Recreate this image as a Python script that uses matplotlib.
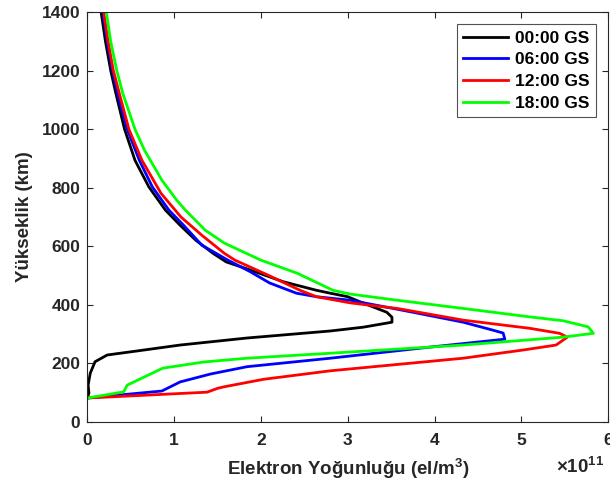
import matplotlib
matplotlib.use("Agg")
import matplotlib.pyplot as plt

plt.rcParams["font.family"] = ["Liberation Sans", "DejaVu Sans"]
plt.rcParams["font.weight"] = "bold"
plt.rcParams["mathtext.fontset"] = "custom"
plt.rcParams["mathtext.bf"] = "Liberation Sans:bold"
plt.rcParams["mathtext.rm"] = "Liberation Sans:bold"

# electron density in units of 1e11 el/m^3, altitude in km
alt_00 = [82, 99, 126, 167, 206, 229, 243, 263, 287, 311, 324, 341, 358, 375, 406, 428,
          440, 450, 479, 519, 547, 576, 621, 672, 724, 803, 894, 1000, 1122, 1201, 1300, 1400]
ne_00 = [0.0, 0.02, 0.01, 0.035, 0.09, 0.23, 0.58, 1.07, 1.84, 2.80, 3.18, 3.51, 3.51, 3.45,
         3.18, 3.00, 2.80, 2.64, 2.26, 1.88, 1.60, 1.45, 1.25, 1.07, 0.90, 0.71, 0.55, 0.43,
         0.33, 0.27, 0.21, 0.16]

alt_06 = [82, 106, 137, 164, 189, 218, 256, 283, 304, 314, 341, 375, 416, 428, 440, 475,
          513, 553, 604, 672, 724, 803, 894, 1000, 1122, 1201, 1300, 1400]
ne_06 = [0.0, 0.86, 1.07, 1.42, 1.84, 2.80, 3.95, 4.81, 4.79, 4.67, 4.33, 3.75, 3.03, 2.64,
         2.41, 2.10, 1.88, 1.62, 1.32, 1.11, 0.94, 0.75, 0.60, 0.46, 0.35, 0.29, 0.23, 0.18]

alt_12 = [82, 102, 115, 120, 146, 175, 218, 246, 263, 290, 303, 320, 348, 388, 407, 428,
          450, 502, 553, 576, 638, 700, 781, 894, 1000, 1122, 1201, 1300, 1400]
ne_12 = [0.0, 1.38, 1.50, 1.57, 2.03, 2.80, 4.33, 5.02, 5.40, 5.53, 5.44, 5.10, 4.33, 3.57,
         3.03, 2.64, 2.45, 2.08, 1.70, 1.58, 1.32, 1.08, 0.85, 0.63, 0.48, 0.37, 0.30, 0.24,
         0.19]

alt_18 = [82, 103, 126, 160, 184, 205, 218, 235, 263, 290, 303, 325, 346, 359, 388, 416,
          437, 450, 508, 553, 611, 655, 724, 758, 826, 928, 1000, 1122, 1201, 1300, 1400]
ne_18 = [0.0, 0.42, 0.46, 0.70, 0.87, 1.34, 1.84, 2.80, 4.33, 5.48, 5.83, 5.77, 5.48, 5.10,
         4.33, 3.57, 3.03, 2.83, 2.42, 2.00, 1.58, 1.36, 1.13, 1.03, 0.86, 0.66, 0.55, 0.41,
         0.34, 0.27, 0.22]

series = [(ne_00, alt_00, "k", "00:00 GS"),
          (ne_06, alt_06, "b", "06:00 GS"),
          (ne_12, alt_12, "r", "12:00 GS"),
          (ne_18, alt_18, "#00ff00", "18:00 GS")]

fig = plt.figure(figsize=(6.1, 4.84), dpi=100)
ax = fig.add_axes([0.143, 0.128, 0.854, 0.847])
for ne, alt, color, label in series:
    ax.plot(ne, alt, color=color, lw=2, label=label)

ax.set_xlim(0, 6)
ax.set_ylim(0, 1400)
ax.set_xticks(range(0, 7))
ax.set_yticks(range(0, 1401, 200))
ax.tick_params(direction="in", top=True, right=True, labelsize=12.5, length=4,
               color="#262626", labelcolor="#262626", pad=5)
ax.tick_params(axis="x", pad=8)
for lab in ax.get_xticklabels() + ax.get_yticklabels():
    lab.set_fontweight("bold")
for sp in ax.spines.values():
    sp.set_color("#262626")
    sp.set_linewidth(0.8)

ax.set_xlabel("Elektron Yoğunluğu (el/m$\\mathbf{^3}$)", fontsize=13.5,
              fontweight="bold", color="#262626", labelpad=6)
ax.set_ylabel("Yükseklik (km)", fontsize=13.5, fontweight="bold", color="#262626",
              labelpad=6)
ax.text(0.993, -0.085, "$\\times\\mathbf{10^{11}}$", transform=ax.transAxes,
        ha="right", va="top", fontsize=13.5, color="#262626")

leg = ax.legend(loc="upper right", fontsize=12.5, frameon=True, fancybox=False,
                handlelength=2.6, handletextpad=0.4, borderpad=0.35,
                labelspacing=0.38, borderaxespad=0,
                bbox_to_anchor=(0.976, 0.97))
leg.get_frame().set_edgecolor("#262626")
leg.get_frame().set_linewidth(0.8)
for t in leg.get_texts():
    t.set_fontweight("bold")

fig.savefig("out.png", dpi=100)
